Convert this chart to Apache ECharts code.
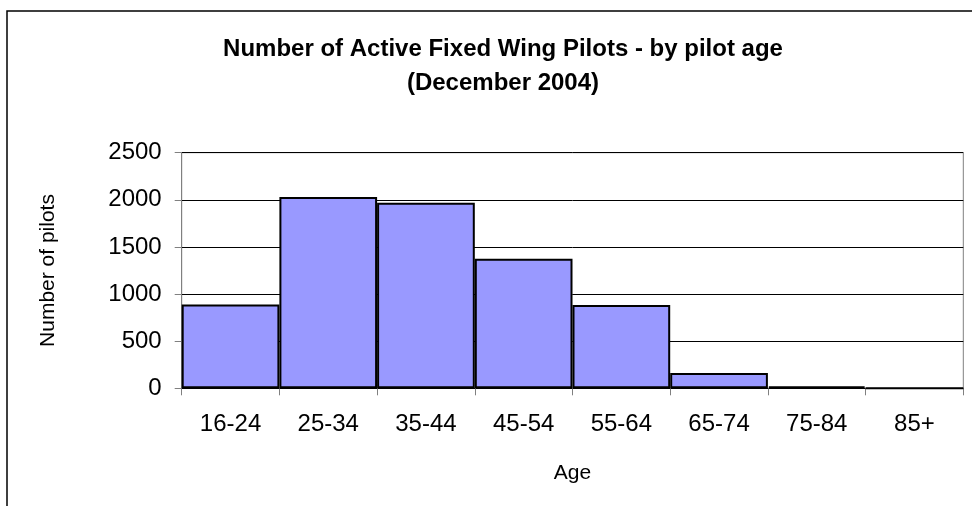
<!DOCTYPE html>
<html>
<head>
<meta charset="utf-8">
<script src="https://cdn.jsdelivr.net/npm/echarts@6/dist/echarts.min.js"></script>
<style>html,body{margin:0;padding:0;background:#fff}#c{width:972px;height:506px}</style>
</head>
<body>
<div id="c"></div>
<script>
const categories = ['16-24','25-34','35-44','45-54','55-64','65-74','75-84','85+'];
const pilots = [890, 2030, 1970, 1375, 885, 162, 20, 0];
const yTicks = [0, 500, 1000, 1500, 2000, 2500];
const titleLines = ['Number of Active Fixed Wing Pilots - by pilot age', '(December 2004)'];

const chart = echarts.init(document.getElementById('c'), null, {renderer: 'canvas'});
const FONT = '"Liberation Sans", Arial, sans-serif';
chart.setOption({
  animation: false,
  backgroundColor: '#fff',
  title: {
    text: titleLines.join('\n'),
    left: 498, top: 27, textAlign: 'center',
    textStyle: {fontFamily: FONT, fontWeight: 'bold', fontSize: 24, lineHeight: 34, color: '#000'}
  },
  graphic: [{
    type: 'rect', shape: {x: 7, y: 11, width: 2000, height: 2000},
    style: {fill: 'none', stroke: '#000', lineWidth: 1.5}, z: 100, silent: true
  }],
  grid: {left: 181.7, right: 8.7, top: 152.7, bottom: 117.7, show: true, borderColor: '#808080', borderWidth: 1},
  xAxis: {
    type: 'category', data: categories,
    name: 'Age', nameLocation: 'middle', nameGap: 74,
    nameTextStyle: {fontFamily: FONT, fontSize: 21, color: '#000'},
    axisLine: {lineStyle: {color: '#000', width: 1}},
    axisTick: {show: true, alignWithLabel: false, length: 7, lineStyle: {color: '#808080'}},
    axisLabel: {fontFamily: FONT, fontSize: 24, color: '#000', margin: 24}
  },
  yAxis: {
    type: 'value', min: yTicks[0], max: yTicks[yTicks.length-1], interval: 500,
    name: 'Number of pilots', nameLocation: 'middle', nameGap: 123, nameRotate: 90,
    nameTextStyle: {fontFamily: FONT, fontSize: 21, color: '#000'},
    axisLine: {show: true, lineStyle: {color: '#808080', width: 1}},
    axisTick: {show: true, length: 7, lineStyle: {color: '#808080'}},
    axisLabel: {fontFamily: FONT, fontSize: 24, color: '#000', margin: 20, formatter: v => String(v)},
    splitLine: {show: true, lineStyle: {color: '#000', width: 1}}
  },
  series: [{
    type: 'bar', data: pilots, barCategoryGap: '0%',
    itemStyle: {color: '#9999FF', borderColor: '#000', borderWidth: 2}
  }]
});
</script>
</body>
</html>
